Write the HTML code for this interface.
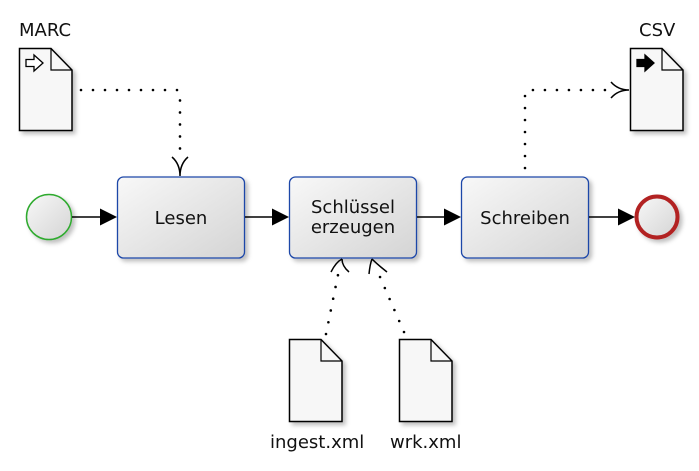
<!DOCTYPE html>
<html><head><meta charset="utf-8"><style>
html,body{margin:0;padding:0;background:#fff;width:699px;height:471px;overflow:hidden}
</style></head><body>
<svg width="699" height="471" viewBox="0 0 699 471" xmlns="http://www.w3.org/2000/svg">
<defs>
<linearGradient id="g" x1="0" y1="0" x2="1" y2="1">
<stop offset="0" stop-color="#f8f8f8"/><stop offset="1" stop-color="#d4d4d4"/></linearGradient>
<filter id="s" x="-20%" y="-20%" width="150%" height="150%"><feDropShadow dx="3" dy="3" stdDeviation="2" flood-color="#000" flood-opacity="0.25"/></filter>
<g id="doc"><path d="M0.5 0.5H32L53 22V82.5H0.5Z" fill="#f7f7f7" stroke="#000" stroke-width="1.5"/><path d="M32 0.5V22H53" fill="none" stroke="#000" stroke-width="1.2"/></g>
</defs>
<use href="#doc" x="19" y="48" filter="url(#s)"/>
<path d="M26 59.5h8v-4.5l9 8-9 8v-4.5h-8z" fill="#fff" stroke="#000" stroke-width="1.3"/>
<use href="#doc" x="630" y="48" filter="url(#s)"/>
<path d="M637 59.5h8v-4.5l9 8-9 8v-4.5h-8z" fill="#000" stroke="#000" stroke-width="1.3"/>
<use href="#doc" x="289" y="339" filter="url(#s)"/>
<use href="#doc" x="399" y="339" filter="url(#s)"/>
<g font-family="DejaVu Sans, Liberation Sans, sans-serif" font-size="18" fill="#111">
<text x="19" y="36">MARC</text>
<text x="639" y="36">CSV</text>
<text x="270" y="448">ingest.xml</text>
<text x="390" y="448">wrk.xml</text>
</g>
<circle cx="49" cy="217" r="22.5" fill="url(#g)" stroke="#2eaa2e" stroke-width="1.5" filter="url(#s)"/>
<circle cx="657" cy="217" r="20.5" fill="url(#g)" stroke="#b22222" stroke-width="4" filter="url(#s)"/>
<rect x="117.5" y="177" width="127" height="81" rx="6" fill="url(#g)" stroke="#1f47a8" stroke-width="1.3" filter="url(#s)"/>
<rect x="289.5" y="177" width="127" height="81" rx="6" fill="url(#g)" stroke="#1f47a8" stroke-width="1.3" filter="url(#s)"/>
<rect x="461.5" y="177" width="127" height="81" rx="6" fill="url(#g)" stroke="#1f47a8" stroke-width="1.3" filter="url(#s)"/>
<g font-family="DejaVu Sans, Liberation Sans, sans-serif" font-size="18" fill="#111" text-anchor="middle">
<text x="181" y="224">Lesen</text>
<text x="353" y="213">Schlüssel</text>
<text x="353" y="233">erzeugen</text>
<text x="525" y="224">Schreiben</text>
</g>
<g stroke="#000" stroke-width="1.5">
<line x1="72" y1="217" x2="102" y2="217"/>
<line x1="245" y1="217" x2="274" y2="217"/>
<line x1="417" y1="217" x2="446" y2="217"/>
<line x1="589" y1="217" x2="620" y2="217"/>
</g>
<g fill="#000">
<path d="M117 217l-17-8.5v17z"/>
<path d="M289 217l-17-8.5v17z"/>
<path d="M461 217l-17-8.5v17z"/>
<path d="M635 217l-17-8.5v17z"/>
</g>
<g fill="none" stroke="#000" stroke-width="2.6" stroke-dasharray="0 12" stroke-linecap="round">
<path d="M81 90H177Q180 90 180 95V160"/>
<path d="M525 168V95Q525 90 530 90H610"/>
<path d="M326 334L339 270"/>
<path d="M404 332L377 270"/>
</g>
<g fill="none" stroke="#000" stroke-width="1.5">
<path d="M172 157Q180 164 180 176M188 157Q180 164 180 176"/>
<path d="M611 82Q618 90 629 90M611 98Q618 90 629 90"/>
<path d="M331 272Q336 262 342 259M349 272Q342 266 342 259"/>
<path d="M369 274Q370 264 372 259M387 272Q378 265 372 259"/>
</g>
</svg>
</body></html>
